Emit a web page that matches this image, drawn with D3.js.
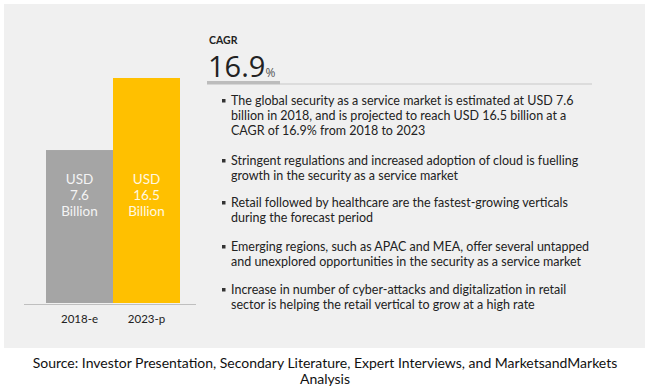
<!DOCTYPE html>
<html>
<head>
<meta charset="utf-8">
<script src="https://cdn.jsdelivr.net/npm/d3@7"></script>
<style>
  body { margin: 0; background: #fff; }
  text { font-family: Lato, "Open Sans", sans-serif; }
</style>
</head>
<body>
<div id="root"></div>
<script>
const years = ["2018-e", "2023-p"];
const values = [7.6, 16.5];
const valueLabels = ["7.6", "16.5"];
const barColors = ["#a5a5a5", "#ffc000"];
const cagr = "16.9";
const bullets = [
  ["The global security as a service market is estimated at USD 7.6",
   "billion in 2018, and is projected to reach USD 16.5 billion at a",
   "CAGR of 16.9% from 2018 to 2023"],
  ["Stringent regulations and increased adoption of cloud is fuelling",
   "growth in the security as a service market"],
  ["Retail followed by healthcare are the fastest-growing verticals",
   "during the forecast period"],
  ["Emerging regions, such as APAC and MEA, offer several untapped",
   "and unexplored opportunities in the security as a service market"],
  ["Increase in number of cyber-attacks and digitalization in retail",
   "sector is helping the retail vertical to grow at a high rate"]
];
const source = ["Source: Investor Presentation, Secondary Literature, Expert Interviews, and MarketsandMarkets",
  "Analysis"];

const svg = d3.select("#root")
  .append("svg")
  .attr("width", 650)
  .attr("height", 388);

// panel
svg.append("rect")
  .attr("x", 4).attr("y", 4)
  .attr("width", 641).attr("height", 344)
  .attr("fill", "#f0f0f0");

const x = d3.scaleBand().domain(years).range([46, 180]).padding(0);
// bars in the original are not drawn to scale, so the baseline sits below zero
const y = d3.scaleLinear().domain([-11.3, 16.5]).range([303, 78]);
const base = y.domain()[0];

const g = svg.append("g");

g.selectAll(".bar")
  .data(values)
  .enter().append("rect")
    .attr("class", "bar")
    .attr("x", (d, i) => x(years[i]))
    .attr("y", d => y(d))
    .attr("width", x.bandwidth())
    .attr("height", d => y(base) - y(d))
    .attr("fill", (d, i) => barColors[i]);

// labels inside bars
const lab = g.selectAll(".blab")
  .data(values)
  .enter().append("text")
    .attr("class", "blab")
    .attr("text-anchor", "middle")
    .attr("font-size", 13.5)
    .attr("fill", (d, i) => i === 0 ? "#f4f4f4" : "#fff8e0");
lab.each(function(d, i) {
  const t = d3.select(this);
  const cx = x(years[i]) + x.bandwidth() / 2;
  ["USD", valueLabels[i], "Billion"].forEach((s, k) => {
    t.append("tspan").attr("x", cx).attr("y", 184 + k * 16).text(s);
  });
});

// axis
const ax = g.append("g")
  .attr("transform", "translate(0,305)")
  .call(d3.axisBottom(x).tickSize(0).tickPadding(10));
ax.select(".domain").remove();
ax.selectAll("text")
  .attr("font-family", "'Liberation Sans Narrow', 'DejaVu Sans Condensed', sans-serif")
  .attr("font-size", 11.5)
  .attr("fill", "#222");
g.append("line")
  .attr("x1", 24).attr("x2", 196)
  .attr("y1", 304.5).attr("y2", 304.5)
  .attr("stroke", "#bfbfbf");

// CAGR block
svg.append("text")
  .attr("x", 209).attr("y", 44)
  .attr("font-family", "'DejaVu Sans Condensed', sans-serif")
  .attr("font-weight", "bold")
  .attr("font-size", 10.5)
  .attr("fill", "#222")
  .text("CAGR");
const big = svg.append("text")
  .attr("x", 208).attr("y", 76.5)
  .attr("fill", "#222");
big.append("tspan").attr("font-size", 29).attr("font-family", "'Open Sans', sans-serif").text(cagr);
big.append("tspan").attr("font-size", 12).attr("font-family", "'Open Sans', sans-serif").attr("fill", "#555").text("%");
svg.append("rect")
  .attr("x", 207).attr("y", 81)
  .attr("width", 73).attr("height", 3.5)
  .attr("fill", "#bcbcbc");
svg.append("line")
  .attr("x1", 280).attr("x2", 592)
  .attr("y1", 84).attr("y2", 84)
  .attr("stroke", "#c8c8c8");

// bullets
const starts = [105, 165, 207, 251, 294];
const bl = svg.append("g");
bullets.forEach((lines, i) => {
  bl.append("rect")
    .attr("x", 222).attr("y", starts[i] - 6)
    .attr("width", 3.5).attr("height", 3.5)
    .attr("fill", "#333");
  lines.forEach((s, k) => {
    bl.append("text")
      .attr("x", 231).attr("y", starts[i] + k * 15)
      .attr("font-size", 12.5)
      .attr("fill", "#222")
      .text(s);
  });
});

// source
source.forEach((s, k) => {
  svg.append("text")
    .attr("x", 325).attr("y", 368 + k * 16)
    .attr("text-anchor", "middle")
    .attr("font-size", 14)
    .attr("fill", "#111")
    .text(s);
});
</script>
</body>
</html>
